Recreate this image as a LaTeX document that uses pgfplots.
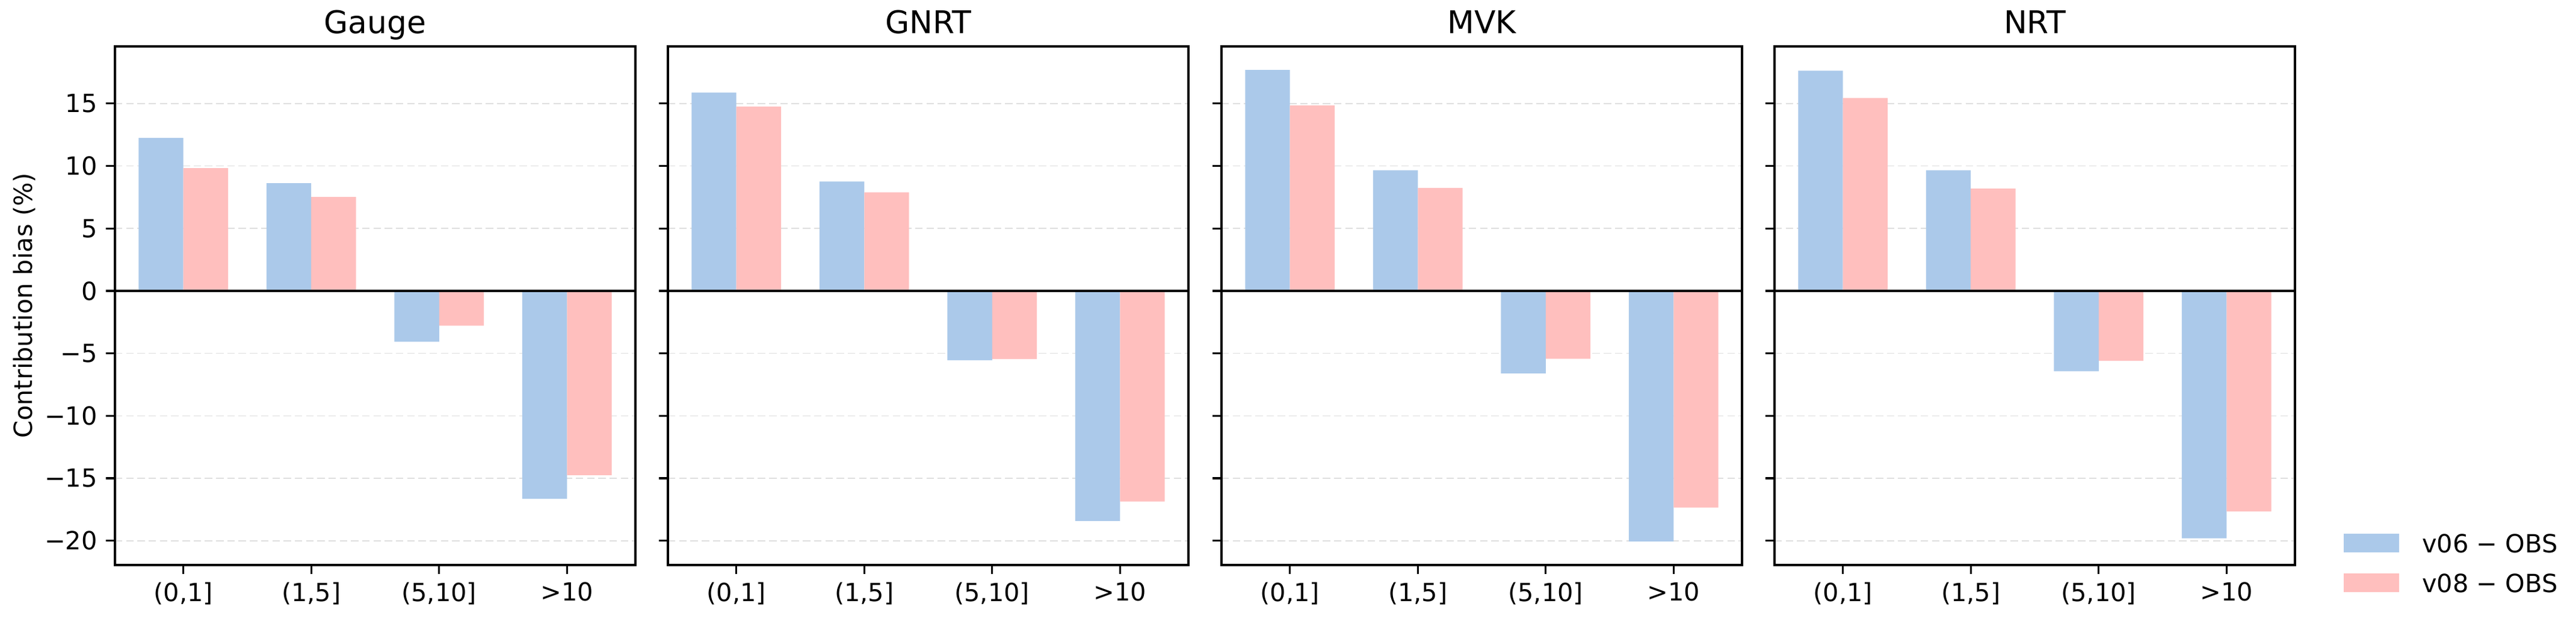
\documentclass[border=0pt]{standalone}
\usepackage{fontspec}
\setmainfont{DejaVu Sans}
\usepackage{pgfplots}
\usepackage{pgfplotstable}
\pgfplotsset{compat=1.18}

\definecolor{vsix}{RGB}{171,201,234}
\definecolor{veight}{RGB}{255,191,190}

% contribution bias (%) per rain-rate class: x = class index
\pgfplotstableread{
x v06 v08
0 12.25 9.82
1 8.62 7.52
2 -4.07 -2.78
3 -16.64 -14.75
}\gauge
\pgfplotstableread{
x v06 v08
0 15.88 14.75
1 8.75 7.89
2 -5.56 -5.46
3 -18.41 -16.86
}\gnrt
\pgfplotstableread{
x v06 v08
0 17.68 14.84
1 9.66 8.24
2 -6.60 -5.43
3 -20.05 -17.34
}\mvk
\pgfplotstableread{
x v06 v08
0 17.62 15.44
1 9.66 8.18
2 -6.44 -5.59
3 -19.80 -17.65
}\nrt

\pgfplotsset{
  panel/.style={
    scale only axis, width=208.38pt, height=207.41pt,
    anchor=south west,
    xmin=-0.535, xmax=3.535, ymin=-21.94, ymax=19.57,
    xtick={0,1,2,3}, xticklabels={{(0,1]},{(1,5]},{(5,10]},{>10}},
    ytick={-20,-15,-10,-5,0,5,10,15},
    tick align=outside, tick pos=left, major tick length=3.5pt,
    every tick/.append style={black, line width=0.8pt},
    axis line style={black, line width=0.8pt},
    ymajorgrids,
    major grid style={gray!25, dash pattern=on 3pt off 1.5pt, line width=0.4pt},
    tick label style={font=\fontsize{10}{12}\selectfont},
    /pgf/number format/assume math mode=true,
    every axis title/.style={at={(0.5,1)}, anchor=base, yshift=5.06pt,
      font=\fontsize{12.5}{15}\selectfont},
  },
  v6/.style={ybar, bar width=0.35, bar shift=-0.175, fill=vsix, draw=none,
    legend image code/.code={\fill[vsix] (0pt,-3.75pt) rectangle (22.2pt,3.75pt);}},
  v8/.style={ybar, bar width=0.35, bar shift=0.175, fill=veight, draw=none,
    legend image code/.code={\fill[veight] (0pt,-3.75pt) rectangle (22.2pt,3.75pt);}},
  zeroline/.style={black, line width=1pt, forget plot},
}

\begin{document}
\begin{tikzpicture}
\useasboundingbox (0,0) rectangle (1031.3pt,247.16pt);

\begin{axis}[panel, at={(46.01pt,21.20pt)}, title={Gauge},
  yticklabels={−20,−15,−10,−5,0,5,10,15},
  ylabel={Contribution bias (\%)},
  ylabel style={at={(axis description cs:-0.1595,0.5)}, anchor=base,
    font=\fontsize{10}{12}\selectfont}]
\addplot[v6] table[x=x, y=v06] {\gauge};
\addplot[v8] table[x=x, y=v08] {\gauge};
\addplot[zeroline] coordinates {(-0.535,0) (3.535,0)};
\end{axis}

\begin{axis}[panel, at={(267.40pt,21.20pt)}, title={GNRT}, yticklabels={}]
\addplot[v6] table[x=x, y=v06] {\gnrt};
\addplot[v8] table[x=x, y=v08] {\gnrt};
\addplot[zeroline] coordinates {(-0.535,0) (3.535,0)};
\end{axis}

\begin{axis}[panel, at={(489.03pt,21.20pt)}, title={MVK}, yticklabels={}]
\addplot[v6] table[x=x, y=v06] {\mvk};
\addplot[v8] table[x=x, y=v08] {\mvk};
\addplot[zeroline] coordinates {(-0.535,0) (3.535,0)};
\end{axis}

\begin{axis}[panel, at={(710.41pt,21.20pt)}, title={NRT}, yticklabels={},
  legend cell align=left,
  legend style={at={(axis description cs:1.0936,-0.0523)}, anchor=south west,
    draw=none, fill=none, inner sep=0pt, outer sep=0pt,
    row sep=8.4pt, column sep=9.2pt,
    nodes={inner sep=0pt, text height=7.5pt, text depth=0pt,
      font=\fontsize{10}{12}\selectfont}}]
\addplot[v6] table[x=x, y=v06] {\nrt};
\addlegendentry{v06 − OBS}
\addplot[v8] table[x=x, y=v08] {\nrt};
\addlegendentry{v08 − OBS}
\addplot[zeroline] coordinates {(-0.535,0) (3.535,0)};
\end{axis}
\end{tikzpicture}
\end{document}
